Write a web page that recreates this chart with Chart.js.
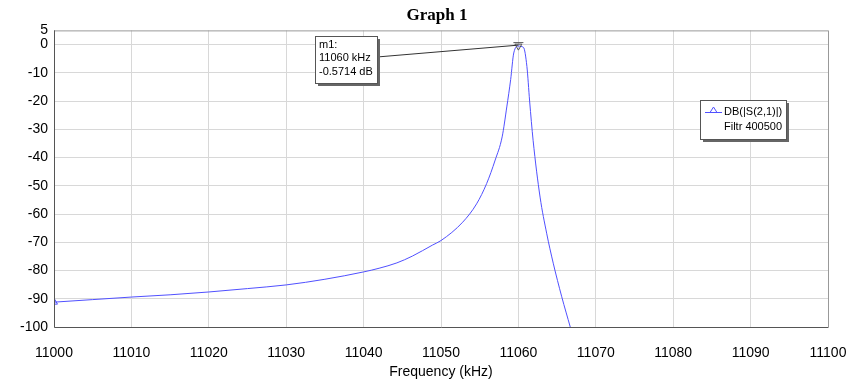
<!DOCTYPE html>
<html>
<head>
<meta charset="utf-8">
<script src="https://cdn.jsdelivr.net/npm/chart.js@4"></script>
<style>
  html, body { margin: 0; padding: 0; background: #fff; }
  #wrap { width: 855px; height: 381px; }
</style>
</head>
<body>
<div id="wrap"><canvas id="graph"></canvas></div>
<script>
// data
const freqKHz = [11000, 11005, 11010, 11015, 11020, 11025, 11030, 11035, 11040, 11042, 11044.3,
  11046.3, 11048.9, 11050, 11052.8, 11054.6, 11055.9, 11057, 11057.9, 11058.5, 11059, 11059.4,
  11060, 11060.65, 11061.1, 11061.45, 11061.9, 11062.8, 11063.65, 11064.5, 11065.6, 11066.7];
const s21dB = [-91.2, -90.3, -89.4, -88.6, -87.6, -86.4, -85.1, -83.1, -80.5, -79.2, -77.3,
  -74.9, -71.0, -69.4, -62.9, -56.4, -49.2, -40.9, -32.7, -22.1, -12.4, -3.0,
  -0.57, -1.0, -7.8, -20.0, -33.9, -54.0, -66.8, -77.4, -89.3, -100];
const yTicks = [5, 0, -10, -20, -30, -40, -50, -60, -70, -80, -90, -100];
const xTicks = [11000, 11010, 11020, 11030, 11040, 11050, 11060, 11070, 11080, 11090, 11100];
const markerIdx = freqKHz.indexOf(11060);

const points = freqKHz.map((f, i) => ({ x: f, y: s21dB[i] }));

const lineBlue = 'rgb(80, 80, 255)';

// marker box, legend box, plot frame
const extras = {
  id: 'extras',
  afterLayout(chart) {
    // title sits a little right of the plot centre in the original
    if (chart.titleBlock) { chart.titleBlock.left = 19; chart.titleBlock.right = 855; }
  },
  afterDraw(chart) {
    const c = chart.ctx, a = chart.chartArea;
    const xs = chart.scales.x, ys = chart.scales.y;
    c.save();
    // frame
    c.strokeStyle = '#999';
    c.lineWidth = 1;
    c.beginPath();
    c.moveTo(a.left, a.top + 0.5); c.lineTo(a.right + 0.5, a.top + 0.5); c.lineTo(a.right + 0.5, a.bottom);
    c.stroke();
    c.strokeStyle = '#555';
    c.beginPath();
    c.moveTo(a.left + 0.5, a.top); c.lineTo(a.left + 0.5, a.bottom + 0.5); c.lineTo(a.right + 0.5, a.bottom + 0.5);
    c.stroke();

    // m1 leader line
    const px = xs.getPixelForValue(freqKHz[markerIdx]);
    const py = ys.getPixelForValue(s21dB[markerIdx]);
    const bx = 315, by = 36, bw = 62, bh = 47;
    c.strokeStyle = '#333';
    c.beginPath();
    c.moveTo(bx + bw, by + 21); c.lineTo(px, py - 1);
    c.stroke();
    // box + shadow
    c.fillStyle = '#666';
    c.fillRect(bx + 3, by + 3, bw, bh);
    c.fillStyle = '#fff';
    c.fillRect(bx, by, bw, bh);
    c.strokeStyle = '#555';
    c.strokeRect(bx + 0.5, by + 0.5, bw, bh);
    c.fillStyle = '#000';
    c.font = '11px "Liberation Sans", Arial, sans-serif';
    c.textBaseline = 'middle';
    c.fillText('m1:', bx + 4, by + 9);
    c.fillText(freqKHz[markerIdx] + ' kHz', bx + 4, by + 22);
    c.fillText('-0.5714 dB', bx + 4, by + 36);

    // peak marker bar
    c.strokeStyle = '#555';
    c.beginPath();
    c.moveTo(px - 5, py - 3.5); c.lineTo(px + 5, py - 3.5);
    c.stroke();

    // legend
    const lx = 700, ly = 100, lw = 86, lh = 39;
    c.fillStyle = '#666';
    c.fillRect(lx + 3, ly + 3, lw, lh);
    c.fillStyle = '#fff';
    c.fillRect(lx, ly, lw, lh);
    c.strokeStyle = '#555';
    c.strokeRect(lx + 0.5, ly + 0.5, lw, lh);
    c.strokeStyle = lineBlue;
    c.beginPath();
    c.moveTo(lx + 5, ly + 12.5); c.lineTo(lx + 22, ly + 12.5);
    c.moveTo(lx + 10, ly + 12.5); c.lineTo(lx + 13.5, ly + 7); c.lineTo(lx + 17, ly + 12.5);
    c.stroke();
    c.fillStyle = '#000';
    c.fillText('DB(|S(2,1)|)', lx + 24, ly + 12);
    c.fillText('Filtr 400500', lx + 24, ly + 27);
    c.restore();
  }
};

new Chart(document.getElementById('graph'), {
  type: 'line',
  data: {
    datasets: [{
      label: 'DB(|S(2,1)|)',
      data: points,
      borderColor: lineBlue,
      borderWidth: 1,
      cubicInterpolationMode: 'monotone',
      fill: false,
      pointStyle: 'triangle',
      pointRadius: points.map((p, i) => (i === 0 ? 4 : i === markerIdx ? 4 : 0)),
      pointRotation: points.map((p, i) => (i === markerIdx ? 180 : 0)),
      pointBorderColor: points.map((p, i) => (i === markerIdx ? '#555' : lineBlue)),
      pointBackgroundColor: 'rgba(0,0,0,0)',
      pointBorderWidth: 1
    }]
  },
  options: {
    responsive: true,
    maintainAspectRatio: false,
    animation: false,
    layout: { padding: { left: 0, right: 27, top: 0, bottom: 0 } },
    plugins: {
      legend: { display: false },
      tooltip: { enabled: false },
      title: {
        display: true,
        text: 'Graph 1',
        color: '#000',
        font: { family: '"Liberation Serif", "Times New Roman", serif', size: 17, weight: 'bold' },
        padding: { top: 5, bottom: 5 }
      }
    },
    scales: {
      x: {
        type: 'linear',
        min: 11000,
        max: 11100,
        afterBuildTicks: s => { s.ticks = xTicks.map(v => ({ value: v })); },
        afterFit: s => { s.height = 54; s.paddingLeft = 0; s.paddingRight = 0; },
        grid: { color: '#d8d8d8', drawTicks: false },
        border: { display: false },
        ticks: {
          color: '#000',
          padding: 18,
          maxRotation: 0,
          callback: v => String(v),
          font: { family: '"Liberation Sans", Arial, sans-serif', size: 14 }
        },
        title: {
          display: true,
          text: 'Frequency (kHz)',
          color: '#000',
          padding: { top: 2, bottom: 0 },
          font: { family: '"Liberation Sans", Arial, sans-serif', size: 14 }
        }
      },
      y: {
        min: -100,
        max: 5,
        afterBuildTicks: s => { s.ticks = yTicks.map(v => ({ value: v })); },
        afterFit: s => { s.width = 54; },
        grid: {
          color: ctx => (ctx.tick && ctx.tick.value === 5 ? 'rgba(0,0,0,0)' : '#d8d8d8'),
          drawTicks: false
        },
        border: { display: false },
        ticks: {
          color: '#000',
          padding: 6,
          font: { family: '"Liberation Sans", Arial, sans-serif', size: 14 }
        }
      }
    }
  },
  plugins: [extras]
});
</script>
</body>
</html>
